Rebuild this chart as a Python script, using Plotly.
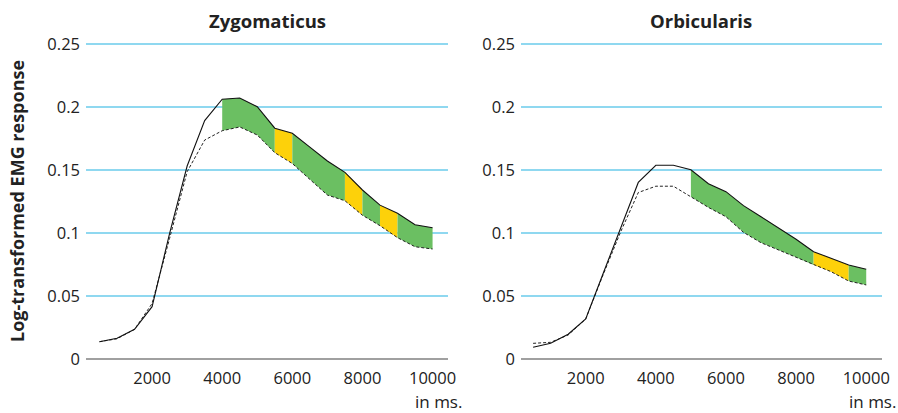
import plotly.graph_objects as go

# ---- data ----
time_ms = [500, 1000, 1500, 2000, 2500, 3000, 3500, 4000, 4500, 5000,
           5500, 6000, 6500, 7000, 7500, 8000, 8500, 9000, 9500, 10000]

zyg_solid = [0.0137, 0.0164, 0.0235, 0.0415, 0.0996, 0.153, 0.189, 0.206, 0.207, 0.200,
             0.183, 0.179, 0.168, 0.157, 0.148, 0.134, 0.122, 0.1155, 0.1065, 0.104]
zyg_dashed = [0.0137, 0.0160, 0.0235, 0.0440, 0.0957, 0.1485, 0.1736, 0.181, 0.184, 0.1776,
              0.1636, 0.155, 0.1424, 0.130, 0.1255, 0.114, 0.1057, 0.0962, 0.089, 0.0872]

orb_solid = [0.00925, 0.0124, 0.0196, 0.0317, 0.068, 0.1036, 0.140, 0.1536, 0.1536, 0.150,
             0.139, 0.1327, 0.1216, 0.1128, 0.104, 0.0949, 0.0851, 0.0798, 0.0745, 0.0711]
orb_dashed = [0.0124, 0.0132, 0.019, 0.0317, 0.067, 0.101, 0.132, 0.137, 0.137, 0.1287,
              0.1202, 0.1128, 0.1004, 0.0922, 0.0864, 0.0806, 0.0745, 0.0692, 0.0618, 0.0587]

# significance segments: (start, end, level)
zyg_segments = [(4000, 5500, "p<.05"), (5500, 6000, "p<.10"), (6000, 7500, "p<.05"),
                (7500, 8000, "p<.10"), (8000, 8500, "p<.05"), (8500, 9000, "p<.10"),
                (9000, 10000, "p<.05")]
orb_segments = [(5000, 8500, "p<.05"), (8500, 9500, "p<.10"), (9500, 10000, "p<.05")]

y_ticks = [0, 0.05, 0.1, 0.15, 0.2, 0.25]
y_tick_labels = ["0", "0.05", "0.1", "0.15", "0.2", "0.25"]
x_ticks = [2000, 4000, 6000, 8000, 10000]
x_tick_labels = ["2000", "4000", "6000", "8000", "10000"]

titles = ["Zygomaticus", "Orbicularis"]

# ---- styling ----
W, H = 898, 413
FONT = "Open Sans"
fill_colors = {"p<.05": "#6bbf62", "p<.10": "#fdd10a"}
GRID = "#8fd8f0"

fig = go.Figure()

panels = [
    dict(solid=zyg_solid, dashed=zyg_dashed, segs=zyg_segments, xa="x", ya="y"),
    dict(solid=orb_solid, dashed=orb_dashed, segs=orb_segments, xa="x2", ya="y2"),
]

for p in panels:
    for (a, b, lvl) in p["segs"]:
        idx = [i for i, t in enumerate(time_ms) if a <= t <= b]
        xs = [time_ms[i] for i in idx] + [time_ms[i] for i in reversed(idx)]
        ys = [p["solid"][i] for i in idx] + [p["dashed"][i] for i in reversed(idx)]
        fig.add_trace(go.Scatter(x=xs, y=ys, mode="lines", fill="toself",
                                 fillcolor=fill_colors[lvl], line=dict(width=0),
                                 hoverinfo="skip", showlegend=False,
                                 xaxis=p["xa"], yaxis=p["ya"]))
    fig.add_trace(go.Scatter(x=time_ms, y=p["dashed"], mode="lines",
                             line=dict(color="#222", width=1, dash="3px,2px"),
                             showlegend=False, xaxis=p["xa"], yaxis=p["ya"]))
    fig.add_trace(go.Scatter(x=time_ms, y=p["solid"], mode="lines",
                             line=dict(color="#111", width=1.1),
                             showlegend=False, xaxis=p["xa"], yaxis=p["ya"]))

# 0 at y=359px, 0.25 at y=43.7px; range padded slightly so edge gridlines show
ydom = [1 - 359.6 / H, 1 - 41.2 / H]
xdom1 = [86 / W, 448 / W]
xdom2 = [521 / W, 882 / W]

tickfont = dict(family=FONT, size=16.5, color="#222")


def xaxis(dom, rng, anchor):
    return dict(domain=dom, range=rng, tickvals=x_ticks, ticktext=x_tick_labels,
                anchor=anchor, showline=False, zeroline=False, showgrid=False,
                tickfont=tickfont, ticks="", ticklabelstandoff=7,
                automargin=False, fixedrange=True)


def yaxis(anchor):
    return dict(domain=ydom, range=[-0.0005, 0.252], tickvals=y_ticks, ticktext=y_tick_labels,
                anchor=anchor, showline=False, showgrid=True, gridcolor=GRID, gridwidth=1.5,
                zeroline=True, zerolinecolor="#a0a0a0", zerolinewidth=2,
                tickfont=tickfont, ticks="", ticklabelstandoff=5,
                automargin=False, fixedrange=True)


fig.update_layout(
    width=W, height=H,
    margin=dict(l=0, r=0, t=0, b=0),
    paper_bgcolor="white", plot_bgcolor="white",
    xaxis=xaxis(xdom1, [115, 10440], "y"),
    xaxis2=xaxis(xdom2, [155, 10450], "y2"),
    yaxis=yaxis("x"),
    yaxis2=yaxis("x2"),
)

ann_font = dict(family=FONT, color="#222")
annotations = [
    dict(text="<b>%s</b>" % titles[0], x=267 / W, y=1 - 21 / H,
         font=dict(size=18.5, **ann_font)),
    dict(text="<b>%s</b>" % titles[1], x=701 / W, y=1 - 21 / H,
         font=dict(size=18.5, **ann_font)),
    dict(text="<b>Log-transformed EMG response</b>", x=17 / W, y=1 - 201 / H,
         textangle=-90, font=dict(size=18, **ann_font)),
    dict(text="in ms.", x=438 / W, y=1 - 401 / H, font=dict(size=17, **ann_font)),
    dict(text="in ms.", x=872 / W, y=1 - 401 / H, font=dict(size=17, **ann_font)),
]
for a in annotations:
    a.update(xref="paper", yref="paper", showarrow=False, borderpad=0,
             xanchor="center", yanchor="middle")
fig.update_layout(annotations=annotations)

fig.write_html("out.html")
